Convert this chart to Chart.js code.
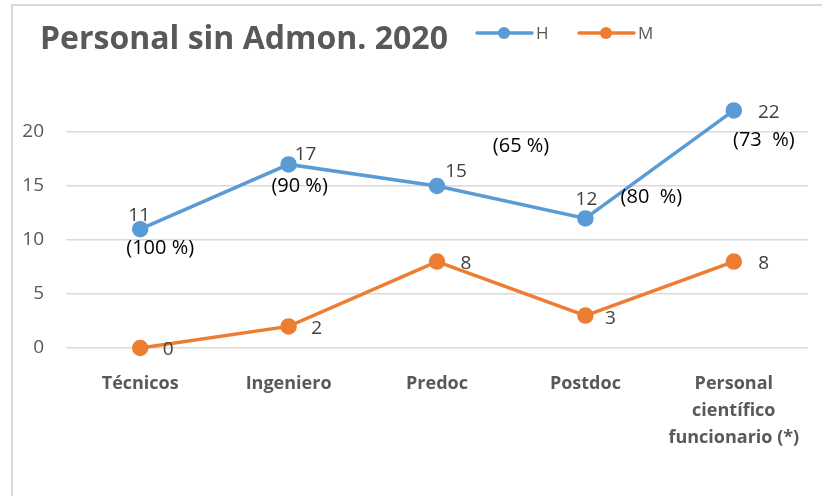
<!DOCTYPE html>
<html>
<head>
<meta charset="utf-8">
<script src="https://cdn.jsdelivr.net/npm/chart.js@4.4.1/dist/chart.umd.min.js"></script>
<style>
  html, body { margin: 0; padding: 0; background: #fff; }
  #wrap { position: relative; width: 822px; height: 496px; }
</style>
</head>
<body>
<div id="wrap"><canvas id="chart" width="822" height="496"></canvas></div>
<script>
const title = "Personal sin Admon. 2020";
const categories = ["Técnicos", "Ingeniero", "Predoc", "Postdoc", ["Personal", "científico", "funcionario (*)"]];
const seriesH = [11, 17, 15, 12, 22];
const seriesM = [0, 2, 8, 3, 8];
const percentH = ["(100 %)", "(90 %)", "(65 %)", "(80  %)", "(73  %)"];
const yTicks = [0, 5, 10, 15, 20];

const BLUE = "#5B9BD5";
const ORANGE = "#ED7D31";
const GREY = "#595959";
const FONT = "'Open Sans', Lato, sans-serif";

// label offsets from each point (px)
const valueOffsets = [
  [[-1, -14], [17, -10], [19, -14], [1, -19], [35, 2]],
  [[28, 2], [28, 2], [29, 2], [25, 3], [30, 2]],
];
const percentOffsets = [[20, 19], [11, 22], [84, -40], [66, -21], [30, 30]];

const decorPlugin = {
  id: "decor",
  beforeDraw(chart) {
    const ctx = chart.ctx;
    ctx.save();
    ctx.strokeStyle = "#d9d9d9";
    ctx.lineWidth = 2;
    ctx.beginPath();
    ctx.moveTo(12, 496);
    ctx.lineTo(12, 5);
    ctx.lineTo(822, 5);
    ctx.stroke();
    ctx.restore();
  },
  afterDraw(chart) {
    const ctx = chart.ctx;
    ctx.save();
    // title
    ctx.fillStyle = GREY;
    ctx.font = "bold 32px " + FONT;
    ctx.textAlign = "left";
    ctx.textBaseline = "middle";
    ctx.fillText(title, 40, 40);

    // legend
    const legendX = [477, 579];
    chart.data.datasets.forEach((ds, i) => {
      const x = legendX[i];
      ctx.strokeStyle = ds.borderColor;
      ctx.lineWidth = 3.5;
      ctx.lineCap = "round";
      ctx.beginPath();
      ctx.moveTo(x, 33);
      ctx.lineTo(x + 55, 33);
      ctx.stroke();
      ctx.fillStyle = ds.borderColor;
      ctx.beginPath();
      ctx.arc(x + 27, 33, 6, 0, Math.PI * 2);
      ctx.fill();
      ctx.fillStyle = GREY;
      ctx.font = "17px " + FONT;
      ctx.textAlign = "left";
      ctx.fillText(ds.label, x + 59, 34);
    });

    // value labels
    ctx.font = "19px " + FONT;
    ctx.textAlign = "center";
    ctx.textBaseline = "middle";
    chart.data.datasets.forEach((ds, i) => {
      const meta = chart.getDatasetMeta(i);
      meta.data.forEach((pt, j) => {
        const [dx, dy] = valueOffsets[i][j];
        ctx.fillStyle = "#404040";
        ctx.fillText(String(ds.data[j]), pt.x + dx, pt.y + dy);
      });
    });

    // percentage notes on H
    const metaH = chart.getDatasetMeta(0);
    ctx.font = "20px " + FONT;
    ctx.fillStyle = "#000";
    metaH.data.forEach((pt, j) => {
      const [dx, dy] = percentOffsets[j];
      ctx.fillText(percentH[j], pt.x + dx, pt.y + dy);
    });
    ctx.restore();
  },
};

// y scale: 10.8 px per unit, 0 at y=348, 20 at y=132; max 23 so the 22 point is inside the area
const Y_MAX = 23;

new Chart(document.getElementById("chart"), {
  type: "line",
  data: {
    labels: categories,
    datasets: [
      {
        label: "H",
        data: seriesH,
        borderColor: BLUE,
        backgroundColor: BLUE,
        borderWidth: 3.5,
        pointRadius: 6.5,
        pointHoverRadius: 6.5,
        clip: false,
      },
      {
        label: "M",
        data: seriesM,
        borderColor: ORANGE,
        backgroundColor: ORANGE,
        borderWidth: 3.5,
        pointRadius: 6.5,
        pointHoverRadius: 6.5,
        clip: false,
      },
    ],
  },
  options: {
    responsive: false,
    animation: false,
    layout: { padding: { top: 348 - Y_MAX * 10.8, right: 14, left: 0, bottom: 0 } },
    plugins: {
      legend: { display: false },
      title: { display: false },
      tooltip: { enabled: false },
    },
    scales: {
      x: {
        offset: true,
        grid: { display: false },
        border: { display: false },
        ticks: {
          color: GREY,
          font: { family: FONT, size: 18, weight: "bold", lineHeight: 1.5 },
          padding: 14,
          maxRotation: 0,
          autoSkip: false,
        },
        afterFit(scale) { scale.height = 148; },
      },
      y: {
        min: 0,
        max: Y_MAX,
        afterBuildTicks(scale) { scale.ticks = yTicks.map(v => ({ value: v })); },
        grid: { color: "#d9d9d9", lineWidth: 1.5, drawTicks: false },
        border: { display: false },
        ticks: {
          color: GREY,
          font: { family: FONT, size: 19 },
          padding: 22,
        },
        afterFit(scale) { scale.width = 66; },
      },
    },
  },
  plugins: [decorPlugin],
});
</script>
</body>
</html>
